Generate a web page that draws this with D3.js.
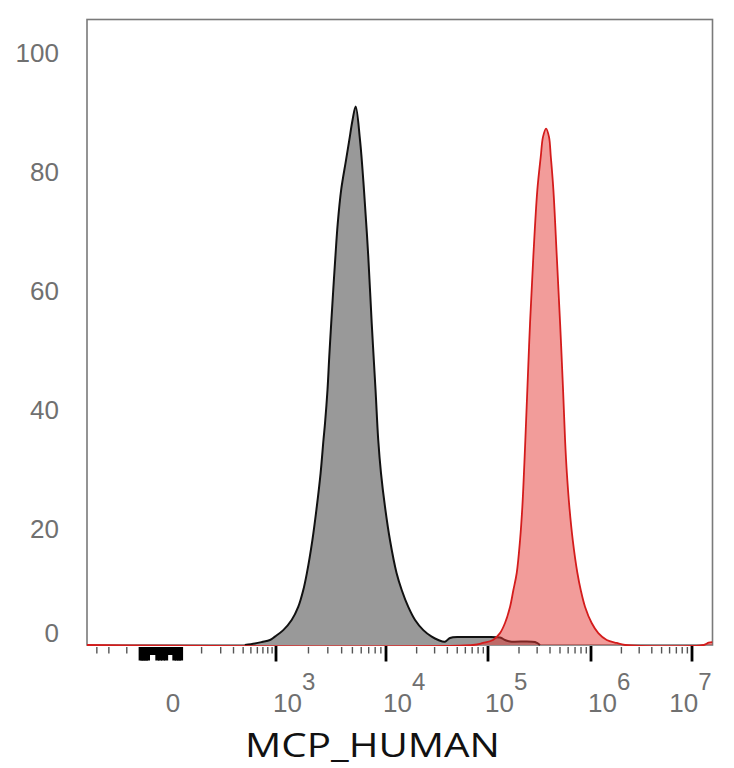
<!DOCTYPE html>
<html>
<head>
<meta charset="utf-8">
<script src="https://cdn.jsdelivr.net/npm/d3@7"></script>
<style>
  html, body { margin: 0; padding: 0; background: #fff; }
  svg { display: block; }
</style>
</head>
<body>
<svg id="chart" width="734" height="768"></svg>
<script>
// ---------------- data ----------------
const axisTitle = "MCP_HUMAN";

// unstained / isotype control (grey) histogram: fluorescence value, % of max
const controlFluor = [420, 560, 680, 850, 970, 1170, 1400, 1610, 1790, 1930, 2170, 2380, 2580, 2740,
  2830, 2980, 3090, 3220, 3360, 3510, 3690, 3960, 4380, 4690, 5010, 5350,
  5850, 6350, 6940, 7450, 8060, 8520, 9020, 9800,
  10950, 12700, 14300, 16560, 19300, 23250, 28100, 32600, 37900, 42500, 53200, 83500,
  130800, 146300, 163600, 286000, 319700];
const controlPct = [0, 0.25, 0.5, 0.84, 1.4, 2.5, 4.2, 6.4, 9.2, 12.0, 17.6, 23.2, 28.9, 34.5,
  37.3, 42.9, 48.4, 54.1, 59.7, 65.2, 70.9, 76.5, 81.5, 84.9, 88.2, 90.5,
  84.9, 76.5, 65.3, 54.1, 42.9, 34.5, 28.9, 23.2,
  17.6, 12.1, 9.2, 6.4, 4.2, 2.5, 1.4, 0.84, 0.55, 1.18, 1.34, 1.34,
  1.26, 0.84, 0.59, 0.5, 0];

// stained sample (red) histogram
const stainedFluor = [-410, 71300, 89300, 111800, 130800, 146300, 163600, 176200, 190100, 204700,
  215500, 223400, 230500, 241000, 256000, 275500, 301400, 325300, 342000, 366200, 391100, 407100, 431400,
  465500, 501200, 535500, 560000, 583000, 616800, 665500, 737800, 796000, 876200,
  1015700, 1181300, 1431500, 1797000, 2172500, 13000000, 14500000, 15800000];
const stainedPct = [0, 0, 0.34, 0.84, 2.0, 3.7, 6.4, 9.2, 12.1, 17.6,
  23.2, 28.9, 34.5, 42.9, 54.1, 65.3, 76.5, 82.1, 85.4, 86.8, 85.4, 82.1, 76.5,
  65.3, 54.1, 42.9, 34.5, 28.9, 23.2, 17.6, 12.1, 9.2, 6.4,
  3.7, 2.0, 0.84, 0.34, 0, 0, 0.4, 0.5];

// axis ticks
const yTickValues = [0, 20, 40, 60, 80, 100];
const xMajorTicks = [1e3, 1e4, 1e5, 1e6, 1e7];
const xMajorExponents = ["3", "4", "5", "6", "7"];
const xMinorTicks = [-300, -200, -100,
  100, 200, 300, 400, 500, 600, 700, 800, 900,
  2e3, 3e3, 4e3, 5e3, 6e3, 7e3, 8e3, 9e3,
  2e4, 3e4, 4e4, 5e4, 6e4, 7e4, 8e4, 9e4,
  2e5, 3e5, 4e5, 5e5, 6e5, 7e5, 8e5, 9e5,
  2e6, 3e6, 4e6, 5e6, 6e6, 7e6, 8e6, 9e6];
const xZeroTicksLong = [-50, -45, -40, -35, -30, -10, -5, 0, 5, 20, 25, 30, 35];
const xZeroTicksShort = [-25, -20, -15, 10, 15];

// ---------------- layout ----------------
const plotLeft = 87, plotRight = 712.5, plotTop = 19.5, plotBottom = 645;
const svg = d3.select("#chart");

// biexponential-like axis: piecewise symlog
const x = d3.scaleSymlog().constant(60)
  .domain([-410, 0, 1e3, 1e4, 1e5, 1e6, 1e7, 1.58e7])
  .range([plotLeft, 163, 276, 386, 488, 591, 692, plotRight]);
const y = d3.scaleLinear().domain([0, 100]).range([plotBottom, plotBottom - 595]);

svg.append("defs").append("clipPath").attr("id", "plotClip")
  .append("rect").attr("x", plotLeft).attr("y", plotTop)
  .attr("width", plotRight - plotLeft).attr("height", plotBottom - plotTop + 1);

// frame
svg.append("rect")
  .attr("x", plotLeft).attr("y", plotTop)
  .attr("width", plotRight - plotLeft).attr("height", plotBottom - plotTop)
  .attr("fill", "none").attr("stroke", "#7a7a7a").attr("stroke-width", 1.6);

const plot = svg.append("g").attr("clip-path", "url(#plotClip)");

const curve = d3.curveCatmullRom.alpha(0.5);
const area = d3.area()
  .x(d => x(d[0])).y0(y(0)).y1(d => Math.min(y(0), y(d[1])))
  .curve(curve);
const line = d3.line()
  .x(d => x(d[0])).y(d => y(d[1]))
  .curve(curve);

const control = controlFluor.map((v, i) => [v, controlPct[i]]);
const stained = stainedFluor.map((v, i) => [v, stainedPct[i]]);

plot.append("path").datum(control).attr("d", area).attr("fill", "#999999");
plot.append("path").datum(control).attr("d", line)
  .attr("fill", "none").attr("stroke", "#111").attr("stroke-width", 2).attr("stroke-linejoin", "round");

plot.append("path").datum(stained).attr("d", area)
  .attr("fill", "#e53935").attr("fill-opacity", 0.5);
plot.append("path").datum(stained).attr("d", line)
  .attr("fill", "none").attr("stroke", "#d41c1c").attr("stroke-width", 1.8).attr("stroke-linejoin", "round");

// x ticks
const tickG = svg.append("g");
tickG.selectAll("line.minor").data(xMinorTicks).join("line")
  .attr("class", "minor")
  .attr("x1", d => x(d)).attr("x2", d => x(d))
  .attr("y1", plotBottom + 2).attr("y2", plotBottom + 8.5)
  .attr("stroke", "#555").attr("stroke-width", 1.4);
tickG.selectAll("line.zl").data(xZeroTicksLong).join("line")
  .attr("class", "zl")
  .attr("x1", d => x(d)).attr("x2", d => x(d))
  .attr("y1", plotBottom + 2).attr("y2", plotBottom + 15.5)
  .attr("stroke", "#000").attr("stroke-width", 4);
tickG.selectAll("line.zs").data(xZeroTicksShort).join("line")
  .attr("class", "zs")
  .attr("x1", d => x(d)).attr("x2", d => x(d))
  .attr("y1", plotBottom + 2).attr("y2", plotBottom + 10)
  .attr("stroke", "#000").attr("stroke-width", 4);
tickG.selectAll("line.major").data(xMajorTicks).join("line")
  .attr("class", "major")
  .attr("x1", d => x(d)).attr("x2", d => x(d))
  .attr("y1", plotBottom + 1).attr("y2", plotBottom + 16.5)
  .attr("stroke", "#000").attr("stroke-width", 2.8);

// x labels
const labelFont = "'Liberation Sans', Arial, sans-serif";
const labelColor = "#707070";
svg.append("text")
  .attr("x", x(0) + 10).attr("y", 712)
  .attr("text-anchor", "middle")
  .attr("font-family", labelFont).attr("font-size", 26).attr("fill", labelColor)
  .text("0");

xMajorTicks.forEach((v, i) => {
  const t = svg.append("text")
    .attr("y", 712)
    .attr("font-family", labelFont).attr("font-size", 26).attr("fill", labelColor);
  t.append("tspan").text("10");
  t.append("tspan").attr("dy", -22).attr("font-size", 24).text(xMajorExponents[i]);
  const w = t.node().getComputedTextLength();
  const xs = Math.min(x(v) - 3, plotRight - 1 - w);
  t.attr("x", xs);
});

// y labels
svg.selectAll("text.ylab").data(yTickValues).join("text")
  .attr("class", "ylab")
  .attr("x", 59)
  .attr("y", d => d === 0 ? 633 : y(d) + 3)
  .attr("dominant-baseline", "central")
  .attr("text-anchor", "end")
  .attr("font-family", labelFont).attr("font-size", 26).attr("fill", labelColor)
  .text(d => d);

// axis title
svg.append("text")
  .attr("x", 245).attr("y", 757)
  .attr("font-family", "'Open Sans', 'Noto Sans', sans-serif")
  .attr("font-size", 33)
  .attr("fill", "#111")
  .attr("textLength", 255).attr("lengthAdjust", "spacingAndGlyphs")
  .text(axisTitle);
</script>
</body>
</html>
